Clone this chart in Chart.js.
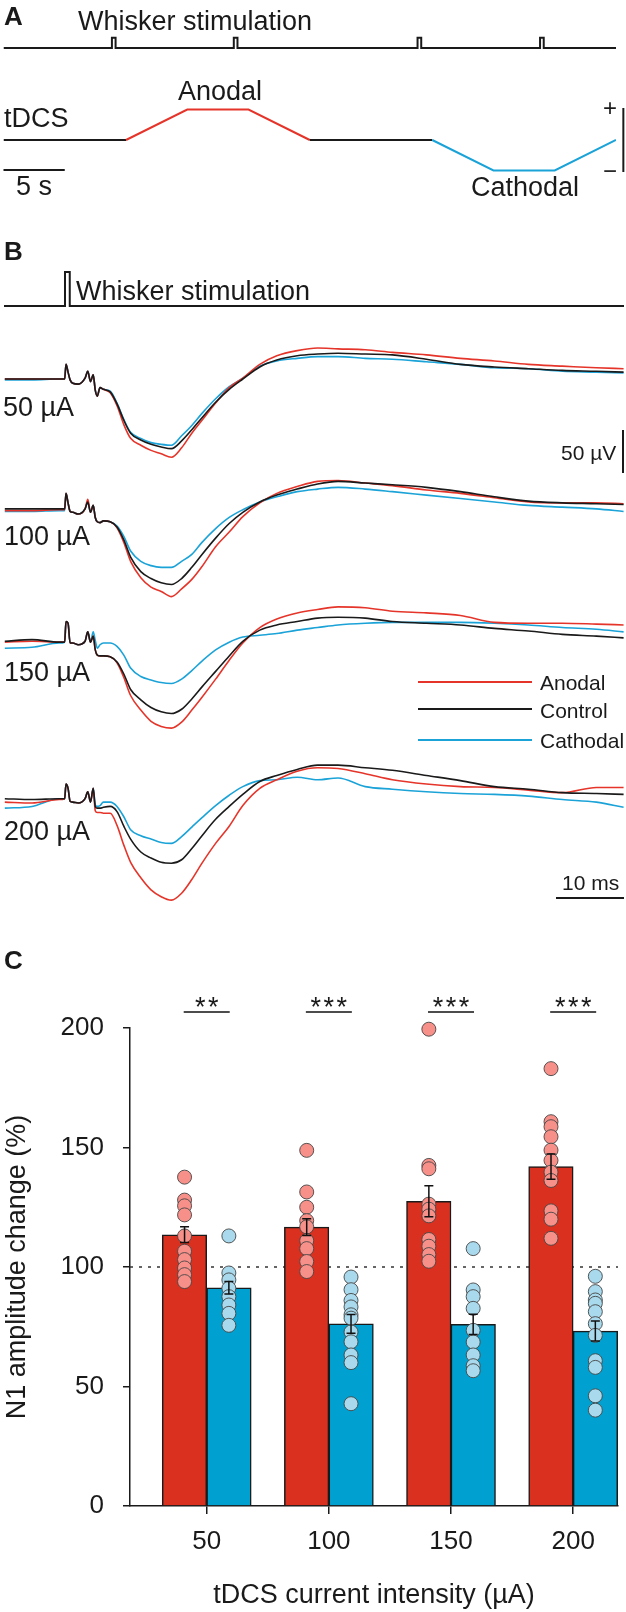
<!DOCTYPE html>
<html lang="en">
<head>
<meta charset="UTF-8">
<title>tDCS N1 amplitude</title>
<script src="https://cdn.jsdelivr.net/npm/chart.js@4.4.1/dist/chart.umd.min.js"></script>
<style>
    body{
        margin: 0;
        background-color: #fff;
        width: 626px;
        height: 1612px;
        position: relative;
        overflow: hidden;
    }
    canvas{
        position: absolute;
        left: 0;
    }
    .lbl{
        position: absolute;
        font-family: 'Liberation Sans', Arial, sans-serif;
        font-size: 27px;
        line-height: 1;
        white-space: nowrap;
        color: #1a1a1a;
    }
    .big{ font-weight: bold; font-size: 26px; }
    .sm{ font-size: 21px; }
    .sign{ font-size: 24px; }
    .key{ position: absolute; left: 418px; width: 114px; height: 2px; }
</style>
</head>
<body>
    <canvas id="panelA" width="626" height="200" style="top:0px"></canvas>
    <canvas id="panelB" width="626" height="690" style="top:230px"></canvas>
    <canvas id="panelC" width="626" height="692" style="top:920px"></canvas>

    <!-- panel A labels -->
    <div class="lbl big" style="left:4px; top:3px;">A</div>
    <div class="lbl" style="left:78px; top:8px;">Whisker stimulation</div>
    <div class="lbl" style="left:4px; top:105px;">tDCS</div>
    <div class="lbl" style="left:178px; top:78px;">Anodal</div>
    <div class="lbl" style="left:471px; top:174px;">Cathodal</div>
    <div class="lbl" style="left:16px; top:173px;">5 s</div>
    <div class="lbl sign" style="left:603px; top:96px;">+</div>
    <div class="lbl sign" style="left:603px; top:159px;">−</div>

    <!-- panel B labels -->
    <div class="lbl big" style="left:4px; top:238px;">B</div>
    <div class="lbl" style="left:76px; top:278px;">Whisker stimulation</div>
    <div class="lbl" style="left:3px; top:394px;">50 µA</div>
    <div class="lbl" style="left:4px; top:523px;">100 µA</div>
    <div class="lbl" style="left:4px; top:659px;">150 µA</div>
    <div class="lbl" style="left:4px; top:818px;">200 µA</div>
    <div class="key" style="top:681px; background:#e5352a;"></div>
    <div class="key" style="top:708px; background:#1a1a1a;"></div>
    <div class="key" style="top:739px; background:#1ba3d8;"></div>
    <div class="lbl sm" style="left:540px; top:672px;">Anodal</div>
    <div class="lbl sm" style="left:540px; top:700px;">Control</div>
    <div class="lbl sm" style="left:540px; top:730px;">Cathodal</div>
    <div class="lbl sm" style="left:562px; top:872px;">10 ms</div>
    <div class="lbl sm" style="left:561px; top:442px;">50 µV</div>

    <!-- panel C label -->
    <div class="lbl big" style="left:4px; top:947px;">C</div>

<script>
// ---- panel A: protocol ----
const tdcsTime = [0, 10, 15, 20, 25, 35, 40, 45, 50];      // s
const tdcsLevel = [0, 0, 1, 1, 0, 0, -1, -1, 0];           // normalised current
const tdcsPhase = ['off', 'anodal', 'anodal', 'anodal', 'off', 'cathodal', 'cathodal', 'cathodal'];
const stimTimesA = [8.85, 18.8, 33.8, 43.8];               // s

// ---- panel B: averaged field potentials (µV, time in ms from whisker stimulus) ----
const traceTimes = [-9, -5, -1, -0.2, 0, 0.3, 0.6, 1, 1.8, 2.8, 3.2, 3.6, 4.0, 4.3, 4.6, 5, 5.5, 6.5, 7.5, 8.5,
    9.5, 11, 12.5, 14, 15.5, 17, 18.5, 20, 22, 24, 26, 28.5, 31, 34, 37, 40, 44, 48, 53, 58, 63, 68, 73, 78, 82];

const control50 = [0, 0, 0, 0, 17, 8, -1, -5, -6, 1, 9, -3, 5, -13, -20, -10, -12, -15, -29, -48,
    -63, -71, -76, -79, -81, -72, -59, -45, -27, -12, 0, 14, 22, 27, 29, 30, 29, 28, 23, 17, 14, 12, 10, 9, 8];
const anodal50 = [0, 0, 0, 0, 17, 8, -1, -5, -6, 1, 9, -3, 5, -13, -20, -10, -12, -16, -31, -53,
    -69, -77, -83, -87, -91, -80, -63, -48, -28, -10, 1, 17, 27, 33, 36, 35, 34, 31, 28, 24, 21, 17, 15, 13, 12];
const cathodal50 = [-1, -1, 0, 0, 17, 8, -1, -5, -6, 1, 9, -3, 5, -13, -19, -10, -12, -14, -28, -47,
    -62, -69, -74, -76, -77, -66, -54, -40, -23, -9, 1, 15, 21, 24, 26, 26, 24, 23, 20, 17, 13, 12, 9, 8, 7];

const control100 = [1, 1, 1, 1, 19, 8, -2, -3, -5, 1, 9, -3, 5, -9, -14, -15, -13, -14, -20, -35,
    -55, -72, -80, -85, -87, -80, -67, -52, -33, -16, -3, 9, 17, 24, 30, 33, 31, 29, 26, 21, 15, 10, 8, 7, 6];
const anodal100 = [-1, -1, 0, 0, 19, 8, -2, -3, -5, 1, 12, -3, 5, -9, -14, -15, -13, -14, -21, -38,
    -60, -79, -90, -95, -101, -92, -81, -66, -43, -26, -8, 8, 19, 27, 33, 34, 31, 28, 23, 19, 14, 9, 8, 8, 7];
const cathodal100 = [-2, -2, -1, -1, 19, 8, -2, -3, -5, 1, 9, -3, 5, -9, -14, -15, -13, -14, -19, -31,
    -48, -60, -65, -67, -67, -60, -52, -38, -22, -9, 0, 9, 15, 21, 24, 26, 24, 21, 17, 13, 9, 5, 3, 1, -2];

const control150 = [1, 3, 0, 0, 24, 22, -1, -1, -3, 1, 12, 0, 7, -9, -15, -16, -16, -17, -23, -37,
    -55, -67, -76, -81, -83, -78, -66, -52, -34, -16, 1, 14, 20, 24, 28, 29, 28, 24, 22, 20, 16, 13, 9, 7, 5];
const anodal150 = [0, 1, 0, 0, 24, 22, -1, -1, -3, 1, 12, 0, 7, -9, -15, -16, -16, -17, -24, -41,
    -62, -79, -92, -98, -100, -93, -79, -64, -43, -21, -1, 17, 27, 34, 38, 41, 40, 36, 34, 31, 23, 22, 22, 21, 20];
const cathodal150 = [-7, -6, -1, 0, 24, 22, -1, -1, -3, 1, 12, 0, 12, 2, -7, -3, -1, -1, -5, -15,
    -30, -40, -44, -47, -48, -43, -33, -22, -9, 0, 6, 8, 10, 14, 17, 20, 22, 23, 23, 23, 22, 20, 17, 15, 12];

const control200 = [2, 1, 2, 2, 19, 14, -1, -2, -3, 2, 10, -2, 14, -7, -9, -9, -8, -7, -13, -30,
    -45, -60, -67, -72, -73, -69, -56, -41, -22, -7, 7, 22, 29, 36, 41, 41, 38, 35, 29, 23, 16, 13, 9, 8, 7];
const anodal200 = [-2, -3, 1, 2, 19, 14, -1, -2, -3, 2, 10, -2, 14, -12, -14, -14, -15, -15, -29, -52,
    -72, -90, -104, -112, -116, -108, -92, -73, -50, -30, -6, 14, 24, 34, 38, 37, 31, 24, 19, 16, 15, 12, 9, 15, 15];
const cathodal200 = [-9, -7, 2, 2, 19, 14, -1, -2, -3, 2, 10, -2, 14, -5, -7, -6, -2, -2, -7, -19,
    -34, -41, -45, -49, -50, -42, -31, -20, -6, 6, 16, 23, 24, 27, 24, 26, 16, 13, 10, 8, 7, 5, 1, -2, -8];

// ---- panel C: N1 amplitude change ----
const intensities = [50, 100, 150, 200];                   // µA
const anodalMean = [113.5, 116.7, 127.5, 142];
const cathodalMean = [91.3, 76.2, 76, 73.2];
const anodalSem = [3.3, 3.5, 6.5, 5.3];
const cathodalSem = [2.6, 3.9, 4.2, 4.2];
const anodalPoints = [
    [137.6, 128, 125.6, 121.8, 113, 106.6, 103.1, 99.6, 96.8, 93.9],
    [148.8, 131.4, 125, 119.4, 116.8, 111, 107.7, 102.3, 98.1],
    [199.5, 142.5, 141.1, 126.3, 124.2, 121.4, 111.5, 108.7, 105.2, 102.4],
    [183, 160.8, 158.7, 154.5, 148.9, 144.6, 139.7, 136.2, 123.5, 120, 112]
];
const cathodalPoints = [
    [113, 97.5, 94.6, 91.1, 87.6, 84.1, 80.6, 75.6],
    [95.8, 90.5, 86, 83.3, 80, 78.6, 72.8, 68.7, 63.2, 60, 42.8],
    [107.7, 90.4, 87.6, 82.7, 73.5, 68.6, 63.2, 58.7, 56.6],
    [96.1, 89.7, 86.2, 84.8, 81.3, 76.3, 71.4, 60.8, 58, 46.1, 40.1]
];
const sigLabels = ['**', '***', '***', '***'];

// colours
const RED = '#e5352a', BLUE = '#1ba3d8', INK = '#1a1a1a';
const BAR_RED = '#d9301f', BAR_BLUE = '#00a1d0';
const DOT_RED = '#f8908a', DOT_BLUE = '#a9d9ec';

Chart.defaults.font.family = "'Liberation Sans', Arial, sans-serif";
Chart.defaults.color = INK;
Chart.defaults.animation = false;
Chart.defaults.plugins.legend.display = false;
Chart.defaults.plugins.tooltip.enabled = false;

// ================= panel A =================
const stimBase = 3.02, stimTop = 3.35;
const stimLineA = [{x: 0, y: stimBase}];
stimTimesA.forEach(t => {
    stimLineA.push({x: t, y: stimBase}, {x: t, y: stimTop}, {x: t + 0.3, y: stimTop}, {x: t + 0.3, y: stimBase});
});
stimLineA.push({x: 50, y: stimBase});

const phaseColor = {off: INK, anodal: RED, cathodal: BLUE};

const protocolBars = {
    id: 'protocolBars',
    afterDatasetsDraw(chart) {
        const {ctx, scales: {x, y}} = chart;
        ctx.save();
        ctx.strokeStyle = INK;
        ctx.lineWidth = 2;
        ctx.beginPath();
        ctx.moveTo(x.getPixelForValue(0), y.getPixelForValue(-0.98));
        ctx.lineTo(x.getPixelForValue(5), y.getPixelForValue(-0.98));
        ctx.moveTo(x.getPixelForValue(50.6), y.getPixelForValue(1.05));
        ctx.lineTo(x.getPixelForValue(50.6), y.getPixelForValue(-1.05));
        ctx.stroke();
        ctx.restore();
    }
};

new Chart(document.getElementById('panelA'), {
    type: 'line',
    data: {
        datasets: [
            {data: stimLineA, borderColor: INK, borderWidth: 2, pointRadius: 0},
            {
                data: tdcsTime.map((t, i) => ({x: t, y: tdcsLevel[i]})),
                borderWidth: 2, pointRadius: 0,
                segment: {borderColor: c => phaseColor[tdcsPhase[c.p0DataIndex]]}
            }
        ]
    },
    options: {
        responsive: false,
        events: [],
        layout: {padding: {left: 3.5, right: 10, top: 0, bottom: 0}},
        scales: {
            x: {type: 'linear', display: false, min: 0, max: 50},
            y: {display: false, min: -60 / 30.5, max: 140 / 30.5}
        }
    },
    plugins: [protocolBars]
});

// ================= panel B =================
const rowOffset = [0, -152, -306, -490];      // vertical spacing of the four rows, µV
const rows = [
    [control50, anodal50, cathodal50],
    [control100, anodal100, cathodal100],
    [control150, anodal150, cathodal150],
    [control200, anodal200, cathodal200]
];
const traceColors = [INK, RED, BLUE];
const tMin = -9.12, tMax = 82.06;

const traceSets = [];
[0, 1, 2].forEach(k => {
    rows.forEach((row, r) => {
        traceSets.push({
            data: traceTimes.map((t, j) => ({x: t, y: row[k][j] + rowOffset[r]})),
            borderColor: traceColors[k],
            borderWidth: 1.6,
            pointRadius: 0,
            cubicInterpolationMode: 'monotone'
        });
    });
});

const stimB0 = 85, stimB1 = 124.5;
traceSets.push({
    data: [{x: tMin, y: stimB0}, {x: -0.15, y: stimB0}, {x: -0.15, y: stimB1}, {x: 0.55, y: stimB1},
           {x: 0.55, y: stimB0}, {x: tMax, y: stimB0}],
    borderColor: INK, borderWidth: 2, pointRadius: 0
});

const traceScaleBars = {
    id: 'traceScaleBars',
    afterDatasetsDraw(chart) {
        const {ctx, scales: {x, y}} = chart;
        ctx.save();
        ctx.strokeStyle = INK;
        ctx.lineWidth = 2;
        ctx.beginPath();
        // 10 ms
        ctx.moveTo(x.getPixelForValue(tMax - 10), y.getPixelForValue(-603.5));
        ctx.lineTo(x.getPixelForValue(tMax), y.getPixelForValue(-603.5));
        // 50 µV
        ctx.moveTo(x.getPixelForValue(tMax) - 1, y.getPixelForValue(-59.3));
        ctx.lineTo(x.getPixelForValue(tMax) - 1, y.getPixelForValue(-109.3));
        ctx.stroke();
        ctx.restore();
    }
};

new Chart(document.getElementById('panelB'), {
    type: 'line',
    data: {datasets: traceSets},
    options: {
        responsive: false,
        events: [],
        layout: {padding: {left: 4, right: 2, top: 0, bottom: 0}},
        scales: {
            x: {type: 'linear', display: false, min: tMin, max: tMax},
            y: {display: false, min: -541 / 0.86, max: 149 / 0.86}
        }
    },
    plugins: [traceScaleBars]
});

// ================= panel C =================
const xMin = 18.6, xMax = 218.35;
const barPx = 44.5;
const plotLeft = 130, plotRight = 620;
const halfBarUnits = barPx / 2 / ((plotRight - plotLeft) / (xMax - xMin));

const dotSet = (groups, side, fill) => ({
    type: 'scatter',
    order: 0,
    clip: false,
    data: groups.flatMap((vals, i) => vals.map(v => ({x: intensities[i] + side * halfBarUnits, y: v}))),
    backgroundColor: fill,
    borderColor: 'rgba(70,70,70,0.9)',
    borderWidth: 1,
    pointRadius: 7
});

const barDeco = {
    id: 'barDeco',
    beforeDatasetsDraw(chart) {
        const {ctx, chartArea, scales: {y}} = chart;
        const py = y.getPixelForValue(100);
        ctx.save();
        ctx.setLineDash([3, 6]);
        ctx.strokeStyle = '#333';
        ctx.lineWidth = 1.5;
        ctx.beginPath();
        ctx.moveTo(chartArea.left, py);
        ctx.lineTo(chartArea.right, py);
        ctx.stroke();
        ctx.restore();
    },
    afterDatasetsDraw(chart) {
        const {ctx, chartArea, scales: {x, y}} = chart;
        ctx.save();
        ctx.strokeStyle = '#111';
        ctx.lineWidth = 1.5;
        intensities.forEach((c, i) => {
            [[anodalMean, anodalSem, -1], [cathodalMean, cathodalSem, 1]].forEach(([m, s, side]) => {
                const px = x.getPixelForValue(c + side * halfBarUnits);
                const top = y.getPixelForValue(m[i] + s[i]);
                const bot = y.getPixelForValue(m[i] - s[i]);
                ctx.beginPath();
                ctx.moveTo(px, top); ctx.lineTo(px, bot);
                ctx.moveTo(px - 4.5, top); ctx.lineTo(px + 4.5, top);
                ctx.moveTo(px - 4.5, bot); ctx.lineTo(px + 4.5, bot);
                ctx.stroke();
            });
            // significance
            const cx = x.getPixelForValue(c);
            ctx.beginPath();
            ctx.moveTo(cx - 23, chartArea.top - 16);
            ctx.lineTo(cx + 23, chartArea.top - 16);
            ctx.stroke();
            ctx.fillStyle = INK;
            ctx.font = "27px 'Liberation Sans', Arial, sans-serif";
            ctx.textAlign = 'center';
            ctx.textBaseline = 'alphabetic';
            const n = sigLabels[i].length;
            for (let j = 0; j < n; j++) {
                ctx.fillText('*', cx + (j - (n - 1) / 2) * 13, chartArea.top - 12);
            }
        });
        ctx.restore();
    }
};

new Chart(document.getElementById('panelC'), {
    type: 'bar',
    data: {
        datasets: [
            dotSet(anodalPoints, -1, DOT_RED),
            dotSet(cathodalPoints, 1, DOT_BLUE),
            {
                label: 'Anodal', order: 1,
                data: intensities.map((c, i) => ({x: c, y: anodalMean[i]})),
                backgroundColor: BAR_RED, borderColor: INK, borderWidth: 1.5, barThickness: barPx
            },
            {
                label: 'Cathodal', order: 1,
                data: intensities.map((c, i) => ({x: c, y: cathodalMean[i]})),
                backgroundColor: BAR_BLUE, borderColor: INK, borderWidth: 1.5, barThickness: barPx
            }
        ]
    },
    options: {
        responsive: false,
        events: [],
        layout: {padding: {left: 0, right: 626 - plotRight, top: 108, bottom: 0}},
        scales: {
            x: {
                type: 'linear', min: xMin, max: xMax, offset: false,
                afterBuildTicks: s => { s.ticks = intensities.map(v => ({value: v})); },
                afterFit: s => { s.height = 106; },
                ticks: {font: {size: 26}, padding: 12, color: INK},
                grid: {offset: false, drawOnChartArea: false, drawTicks: true, tickLength: 8, color: INK, lineWidth: 1.5},
                border: {color: INK, width: 1.5},
                title: {display: true, text: 'tDCS current intensity (µA)', font: {size: 27}, color: INK, padding: 0}
            },
            y: {
                min: 0, max: 200,
                afterFit: s => { s.width = plotLeft; },
                ticks: {stepSize: 50, font: {size: 26}, padding: 19, color: INK},
                grid: {drawOnChartArea: false, drawTicks: true, tickLength: 7, color: INK, lineWidth: 1.5},
                border: {color: INK, width: 1.5},
                title: {display: true, text: 'N1 amplitude change (%)', font: {size: 27}, color: INK, padding: {top: 1, bottom: 0}}
            }
        }
    },
    plugins: [barDeco]
});
</script>
</body>
</html>
